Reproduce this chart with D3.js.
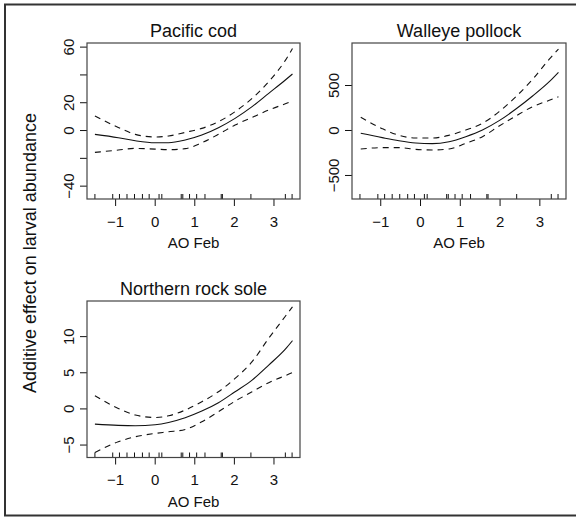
<!DOCTYPE html>
<html>
<head>
<meta charset="utf-8">
<script src="https://cdn.jsdelivr.net/npm/d3@7"></script>
<style>
	body { margin: 0; background: #fff; }
	svg text { font-family: "Liberation Sans", Arial, Helvetica, sans-serif; fill: #111; }
</style>
</head>
<body>
<svg id="chart" width="576" height="517"></svg>
<script>
// AO Feb values (rug) and smooth fits
var rugX = [-1.51, -1.06, -0.89, -0.70, -0.51, -0.31, -0.14, 0.11, 0.18, 0.67, 0.71, 0.88, 1.06, 1.27, 1.68, 1.71, 2.43, 3.30, 3.47];
var xTicks = [-1, 0, 1, 2, 3];

var codX = [-1.51, -0.92, -0.49, 0.01, 0.35, 0.77, 1.19, 1.61, 2.03, 2.46, 2.88, 3.30, 3.48];
var codFit = [-3.1, -5.5, -7.7, -9.1, -9.1, -7.2, -3.6, 1.7, 8.4, 16.8, 26.4, 36.0, 40.3];
var codUpper = [10.1, 1.9, -3.1, -5.0, -4.3, -1.7, 1.2, 6.0, 13.2, 22.8, 34.8, 50.1, 58.6];
var codLower = [-16.1, -14.4, -13.2, -13.7, -14.1, -13.4, -9.1, -3.1, 3.6, 9.1, 14.4, 18.9, 20.9];
var codTicks = [-40, -20, 0, 20, 40, 60];
var codLabels = [-40, 0, 20, 60];

var pollockX = [-1.49, -0.95, -0.53, -0.11, 0.31, 0.73, 1.15, 1.57, 1.99, 2.41, 2.83, 3.25, 3.48];
var pollockFit = [-37, -85, -119, -144, -152, -130, -74, 0, 104, 233, 378, 537, 641];
var pollockUpper = [141, 15, -59, -89, -89, -59, 0, 74, 204, 370, 563, 788, 900];
var pollockLower = [-211, -196, -196, -215, -222, -211, -148, -74, 44, 156, 259, 330, 369];
var pollockTicks = [-500, 0, 500];
var pollockLabels = [-500, 0, 500];

var soleX = [-1.51, -0.92, -0.49, 0.01, 0.35, 0.77, 1.19, 1.61, 2.03, 2.46, 2.88, 3.30, 3.48];
var soleFit = [-2.17, -2.35, -2.40, -2.26, -1.94, -1.29, -0.37, 0.79, 2.31, 3.92, 6.0, 8.2, 9.37];
var soleUpper = [1.75, 0, -0.92, -1.25, -1.02, -0.23, 0.92, 2.31, 4.15, 6.46, 9.7, 12.75, 14.05];
var soleLower = [-6.09, -4.62, -3.92, -3.46, -3.23, -2.91, -1.85, -0.46, 1.0, 2.31, 3.56, 4.54, 4.96];
var soleTicks = [-5, 0, 5, 10];
var soleLabels = [-5, 0, 5, 10];

var svg = d3.select("#chart");

// outer frame (right edge falls outside the picture)
svg.append("rect")
	.attr("x", 5).attr("y", 4.5)
	.attr("width", 620).attr("height", 511)
	.attr("fill", "none")
	.attr("stroke", "#333")
	.attr("stroke-width", 2);

var fmt = d3.format("d");

function drawPanel(p) {
	var g = svg.append("g")
		.attr("transform", "translate(" + p.left + "," + p.top + ")");

	var x = d3.scaleLinear().domain([-1.71, 3.67]).range([0, p.width]);
	var y = d3.scaleLinear().domain(p.yDomain).range([p.height, 0]);

	// x axis
	var xa = g.append("g")
		.attr("transform", "translate(0," + p.height + ")")
		.call(d3.axisBottom(x).tickValues(xTicks).tickFormat(fmt)
			.tickSize(7).tickSizeOuter(0).tickPadding(10));
	xa.select(".domain").remove();
	xa.selectAll("line").attr("stroke", "#111");
	xa.selectAll("text").style("font-size", "15px");

	// y axis, labels rotated like R
	var ya = g.append("g")
		.call(d3.axisLeft(y).tickValues(p.ticks).tickSize(7).tickSizeOuter(0)
			.tickFormat(function(d) { return p.labels.indexOf(d) >= 0 ? fmt(d) : ""; }));
	ya.select(".domain").remove();
	ya.selectAll("line").attr("stroke", "#111");
	ya.selectAll("text")
		.attr("x", null)
		.attr("dy", null)
		.attr("text-anchor", "middle")
		.attr("transform", "translate(-13,0) rotate(-90)")
		.style("font-size", "15px");

	// rug
	g.selectAll(".rug")
		.data(rugX)
		.enter().append("line")
			.attr("class", "rug")
			.attr("x1", function(d) { return x(d); })
			.attr("x2", function(d) { return x(d); })
			.attr("y1", p.height)
			.attr("y2", p.height - 5)
			.attr("stroke", "#111")
			.attr("stroke-width", 1);

	var line = d3.line()
		.x(function(d) { return x(d[0]); })
		.y(function(d) { return y(d[1]); })
		.curve(d3.curveMonotoneX);

	var series = [
		{ values: p.upper, dash: "6,5" },
		{ values: p.lower, dash: "6,5" },
		{ values: p.fit, dash: null }
	];
	series.forEach(function(s) {
		g.append("path")
			.datum(p.xs.map(function(v, i) { return [v, s.values[i]]; }))
			.attr("d", line)
			.attr("fill", "none")
			.attr("stroke", "#111")
			.attr("stroke-width", 1.1)
			.attr("stroke-dasharray", s.dash);
	});

	// box
	g.append("rect")
		.attr("width", p.width).attr("height", p.height)
		.attr("fill", "none")
		.attr("stroke", "#444")
		.attr("stroke-width", 1.2);

	g.append("text")
		.attr("x", p.width / 2)
		.attr("y", -6)
		.attr("text-anchor", "middle")
		.style("font-size", "18px")
		.text(p.title);

	g.append("text")
		.attr("x", p.width / 2)
		.attr("y", p.height + 49)
		.attr("text-anchor", "middle")
		.style("font-size", "15px")
		.text("AO Feb");
}

drawPanel({ title: "Pacific cod", left: 87, top: 43, width: 213, height: 156,
	yDomain: [-49.6, 62.6], ticks: codTicks, labels: codLabels,
	xs: codX, fit: codFit, upper: codUpper, lower: codLower });
drawPanel({ title: "Walleye pollock", left: 352, top: 43, width: 214, height: 156,
	yDomain: [-767, 967], ticks: pollockTicks, labels: pollockLabels,
	xs: pollockX, fit: pollockFit, upper: pollockUpper, lower: pollockLower });
drawPanel({ title: "Northern rock sole", left: 87, top: 301, width: 213, height: 156.5,
	yDomain: [-6.79, 14.86], ticks: soleTicks, labels: soleLabels,
	xs: soleX, fit: soleFit, upper: soleUpper, lower: soleLower });

svg.append("text")
	.attr("transform", "translate(36,253) rotate(-90)")
	.attr("text-anchor", "middle")
	.style("font-size", "18px")
	.text("Additive effect on larval abundance");
</script>
</body>
</html>
